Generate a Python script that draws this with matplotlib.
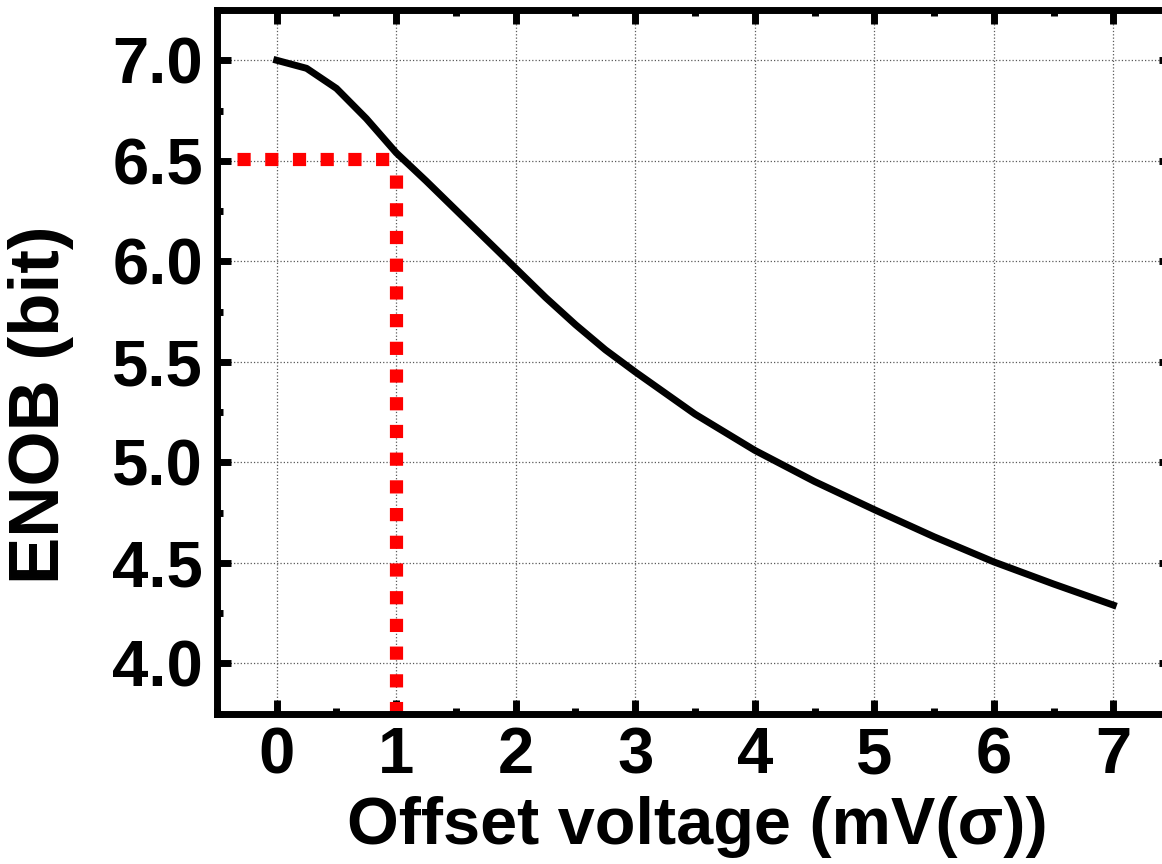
import matplotlib
matplotlib.use('Agg')
import matplotlib.pyplot as plt
from matplotlib.ticker import MultipleLocator

# ========== 字体 ==========
plt.rcParams['font.family'] = ['Liberation Sans', 'DejaVu Sans']
plt.rcParams['font.weight'] = 'bold'

# ========== 数据 ==========
offset_mv = [0, 0.25, 0.5, 0.75, 1.0, 1.25, 1.5, 1.75, 2.0, 2.25, 2.5, 2.75,
             3.0, 3.5, 4.0, 4.5, 5.0, 5.5, 6.0, 6.5, 7.0]
enob_bit = [7.00, 6.96, 6.86, 6.71, 6.54, 6.40, 6.255, 6.11, 5.965, 5.82, 5.685, 5.56,
            5.45, 5.24, 5.06, 4.905, 4.765, 4.63, 4.505, 4.395, 4.29]

# 红色辅助线 (1 mV -> 6.5 bit)
guide_x = [-0.33, 1.0]
guide_y = [6.51, 6.51]
guide_vx = [1.0, 1.0]
guide_vy = [6.43, 3.75]

x_ticks = [0, 1, 2, 3, 4, 5, 6, 7]
y_ticks = [4.0, 4.5, 5.0, 5.5, 6.0, 6.5, 7.0]

# ========== 绘图 ==========
fig = plt.figure(figsize=(11.62, 8.64), dpi=100)
ax = fig.add_axes([0.1867, 0.174, 0.8228, 0.8144])

ax.plot(guide_x, guide_y, color='red', lw=9.5, linestyle=(0, (1, 1.1)),
        solid_capstyle='butt', dash_capstyle='butt', zorder=2)
ax.plot(guide_vx, guide_vy, color='red', lw=9.5, linestyle=(0, (1, 1.1)),
        solid_capstyle='butt', dash_capstyle='butt', zorder=2)
ax.plot(offset_mv, enob_bit, color='black', lw=5, zorder=3)

ax.set_xlim(-0.5, 7.5)
ax.set_ylim(3.75, 7.25)
ax.set_xticks(x_ticks)
ax.set_yticks(y_ticks)
ax.set_yticklabels([f'{v:.1f}' for v in y_ticks])
ax.xaxis.set_minor_locator(MultipleLocator(0.5))
ax.yaxis.set_minor_locator(MultipleLocator(0.25))

ax.grid(True, which='major', linestyle=':', color='0.35', lw=0.9, zorder=0)

for sp in ax.spines.values():
    sp.set_linewidth(5)

ax.tick_params(which='major', direction='in', length=10, width=5,
               top=True, right=True, labelsize=47)
ax.tick_params(which='minor', direction='in', length=4, width=5,
               top=True, right=True)
ax.tick_params(axis='x', which='major', pad=9)
ax.tick_params(axis='y', which='major', pad=10)
for lab in ax.get_xticklabels() + ax.get_yticklabels():
    lab.set_fontweight('bold')

ax.set_xlabel('Offset voltage (mV(σ))', fontsize=48, fontweight='bold')
ax.set_ylabel('ENOB (bit)', fontsize=51, fontweight='bold')
ax.xaxis.set_label_coords(0.502, -0.117)
ax.yaxis.set_label_coords(-0.150, 0.439)

plt.savefig('out.png', dpi=100)
